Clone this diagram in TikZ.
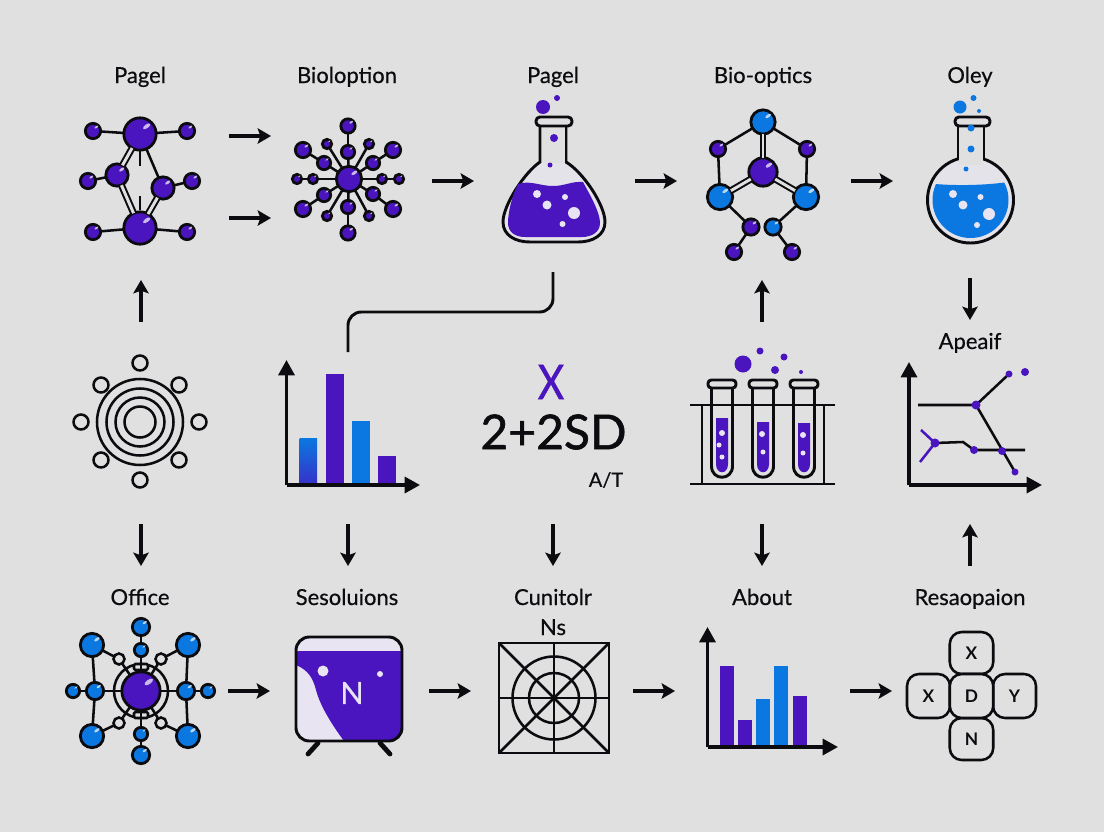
\documentclass[tikz,border=0pt]{standalone}
\usepackage{fontspec}
\usepackage{xcolor}
\usetikzlibrary{arrows.meta}
\setmainfont{Lato}
\newfontfamily\heavyfont[RawFeature={embolden=0.5}]{Lato}
\newfontfamily\bigfont[RawFeature={embolden=1.2}]{Lato}
\definecolor{bgGrey}{HTML}{E0E0E0}
\definecolor{ink}{HTML}{0C0C10}
\definecolor{vio}{HTML}{4A14BE}
\definecolor{azure}{HTML}{0A78E0}
\definecolor{lav}{HTML}{E8E4F2}
\definecolor{tint}{HTML}{E5E3EA}
\tikzset{
    lab/.style={text=ink,inner sep=0pt,anchor=base,font=\heavyfont\fontsize{16.5}{18}\selectfont},
    atomP/.style={circle,draw=ink,line width=2.1pt,fill=vio,inner sep=0pt,outer sep=0pt},
    atomB/.style={circle,draw=ink,line width=2.1pt,fill=azure,inner sep=0pt,outer sep=0pt},
    ringN/.style={circle,draw=ink,line width=1.9pt,fill=bgGrey,inner sep=0pt,outer sep=0pt},
    bond/.style={draw=ink,line width=1.9pt},
    bondD/.style={draw=ink,line width=1.5pt,double=bgGrey,double distance=2.2pt},
    flow/.style={draw=ink,line width=2.3pt,-{Stealth[length=10pt,width=11.5pt,inset=2pt]}},
    axis/.style={draw=ink,line width=2.5pt,-{Stealth[length=11.5pt,width=12pt,inset=0pt]}},
    outline/.style={draw=ink,line width=2.2pt},
    thinline/.style={draw=ink,line width=1.9pt},
    keybox/.style={draw=ink,line width=1.9pt,fill=bgGrey,rounded corners=9pt,inner sep=0pt,outer sep=0pt,text=ink,font=\fontsize{13}{15}\bfseries\selectfont},
}
% name, x, y, diameter, style
\newcommand{\atom}[5]{
    \node[#5,minimum size=#4*0.75pt-2pt] (#1) at (#2,#3) {};
    \fill[white,opacity=0.7,rotate around={35:(#2+0.19*#4,#3-0.22*#4)}] (#2+0.19*#4,#3-0.22*#4) ellipse (0.12*#4 and 0.055*#4);
}
% name, start, end
\newcommand{\flowarrow}[3]{
    \coordinate (#1s) at (#2);
    \coordinate (#1e) at (#3);
    \draw[flow] (#1s) -- (#1e);
}

\begin{document}
\begin{tikzpicture}[x=0.75pt,y=-0.75pt]
    \useasboundingbox (0,0) rectangle (1104,832);
    \fill[bgGrey] (0,0) rectangle (1104,832);

    % Labels
    \node[lab] (labPagelA) at (140,83) {Pagel};
    \node[lab] (labBioloption) at (347,83) {Bioloption};
    \node[lab] (labPagelB) at (553,83) {Pagel};
    \node[lab] (labBioOptics) at (763,83) {Bio-optics};
    \node[lab] (labOley) at (970,83) {Oley};
    \node[lab] (labApeaif) at (970,349) {Apeaif};
    \node[lab] (labOffice) at (140,605) {Office};
    \node[lab] (labSesoluions) at (347,605) {Sesoluions};
    \node[lab] (labCunitolr) at (553,605) {Cunitolr};
    \node[lab] (labNs) at (553,635) {Ns};
    \node[lab] (labAbout) at (762,605) {About};
    \node[lab] (labResaopaion) at (970,605) {Resaopaion};

    % Arrows top row
    \flowarrow{aA}{229,136}{271,136}
    \flowarrow{aB}{229,218}{271,218}
    \flowarrow{aC}{432,181}{474,181}
    \flowarrow{aD}{635,181}{677,181}
    \flowarrow{aE}{851,181}{893,181}
    % Arrows between rows
    \flowarrow{aF}{141,322}{141,280}
    \flowarrow{aG}{762,322}{762,280}
    \flowarrow{aH}{970,278}{970,320}
    \flowarrow{aI}{141,524}{141,566}
    \flowarrow{aJ}{348,524}{348,566}
    \flowarrow{aK}{553,524}{553,566}
    \flowarrow{aL}{762,524}{762,566}
    \flowarrow{aM}{970,566}{970,524}
    % Arrows bottom row
    \flowarrow{aN}{228,691}{270,691}
    \flowarrow{aO}{429,691}{471,691}
    \flowarrow{aP}{633,691}{675,691}
    \flowarrow{aQ}{850,691}{892,691}
    % Elbow from flask to bar chart
    \coordinate (elbowS) at (553,272);
    \coordinate (elbowM) at (348,312);
    \coordinate (elbowE) at (348,352);
    \draw[outline,rounded corners=10pt] (elbowS) |- (elbowM) -- (elbowE);

    % Molecule, top left
    \atom{mTop}{140}{134}{35}{atomP}
    \atom{mBot}{140}{228}{35}{atomP}
    \atom{mL}{117}{175}{25}{atomP}
    \atom{mR}{163}{188}{25}{atomP}
    \atom{mTL}{93}{131}{18}{atomP}
    \atom{mTR}{187}{131}{18}{atomP}
    \atom{mML}{88}{181}{18}{atomP}
    \atom{mMR}{192}{181}{18}{atomP}
    \atom{mBL}{93}{232}{18}{atomP}
    \atom{mBR}{187}{232}{18}{atomP}
    \draw[bond] (mTop) -- (mTL);
    \draw[bond] (mTop) -- (mTR);
    \draw[bond] (mL) -- (mML);
    \draw[bond] (mR) -- (mMR);
    \draw[bond] (mBot) -- (mBL);
    \draw[bond] (mBot) -- (mBR);
    \draw[bond] (mTop) -- (mR);
    \draw[bondD] (mTop) -- (mL);
    \draw[bondD] (mL) -- (mBot);
    \draw[bondD] (mR) -- (mBot);
    \coordinate (mTickA) at (140,151);
    \coordinate (mTickB) at (140,166);
    \coordinate (mTickC) at (140,196);
    \coordinate (mTickD) at (140,210);
    \draw[bond] (mTickA) -- (mTickB);
    \draw[bond] (mTickC) -- (mTickD);

    % Star molecule
    \atom{sHub}{349}{179}{28}{atomP}
    \foreach \n/\ix/\iy/\id/\ox/\oy/\od in {
        a/348/152/16/348/126/17, b/324/163/16/303/150/18, c/373/163/16/393/150/18,
        d/313/179/12/297/179/12, e/382/179/12/399/179/12, f/324/195/16/303/209/18,
        g/373/194/16/393/209/18, h/348/207/16/348/233/17} {
        \atom{sI\n}{\ix}{\iy}{\id}{atomP}
        \atom{sO\n}{\ox}{\oy}{\od}{atomP}
        \draw[bond] (sHub) -- (sI\n);
        \draw[bond] (sI\n) -- (sO\n);
    }
    \atom{sSa}{327}{144}{12}{atomP}
    \atom{sSb}{369}{144}{12}{atomP}
    \atom{sSc}{327}{216}{12}{atomP}
    \atom{sSd}{369}{216}{12}{atomP}
    \draw[bond] (sHub) -- (sSa);
    \draw[bond] (sHub) -- (sSb);
    \draw[bond] (sHub) -- (sSc);
    \draw[bond] (sHub) -- (sSd);

    % Conical flask
    \draw[outline,fill=tint] (540,126) -- (540,162) .. controls (525,172) and (503,205) .. (503,222)
        .. controls (503,235) and (515,242) .. (530,242) -- (578,242)
        .. controls (593,242) and (605,235) .. (605,222)
        .. controls (605,205) and (583,172) .. (566,162) -- (566,126);
    \fill[bgGrey] (541.5,126) rectangle (564.5,163);
    \fill[vio] (518,184) .. controls (530,180) and (540,186) .. (553,186)
        .. controls (565,186) and (572,181) .. (583,182)
        .. controls (590,195) and (600,212) .. (600,223)
        .. controls (600,232) and (592,237) .. (582,237) -- (525,237)
        .. controls (515,237) and (508,232) .. (508,223)
        .. controls (508,212) and (512,196) .. (518,184) -- cycle;
    \draw[outline,fill=bgGrey,rounded corners=3pt] (536,117) rectangle (572,126);
    \fill[vio] (543,107) circle (7);
    \fill[vio] (557,98) circle (3);
    \fill[vio] (554,138) circle (4);
    \fill[vio] (550,165) circle (2.5);
    \foreach \bx/\by/\br in {537/194/4,547/205/4.5,565/197/3,574/213/6,562.5/224/3}
        \fill[lav] (\bx,\by) circle (\br);

    % Second molecule, top
    \atom{oTop}{763}{122}{27}{atomB}
    \atom{oL}{718}{149}{18}{atomP}
    \atom{oR}{807}{149}{18}{atomP}
    \atom{oMid}{763}{172}{31}{atomP}
    \atom{oSW}{720}{197}{28}{atomB}
    \atom{oSE}{806}{197}{28}{atomB}
    \atom{oLowA}{751}{227}{19}{atomP}
    \atom{oLowB}{773}{227}{19}{atomB}
    \atom{oEndA}{734}{252}{18}{atomP}
    \atom{oEndB}{792}{252}{18}{atomP}
    \draw[bond] (oTop) -- (oL);
    \draw[bond] (oTop) -- (oR);
    \draw[bondD] (oTop) -- (oMid);
    \draw[bondD] (oMid) -- (oSW);
    \draw[bondD] (oMid) -- (oSE);
    \draw[bond] (oL) -- (oSW);
    \draw[bond] (oR) -- (oSE);
    \draw[bond] (oSW) -- (oLowA);
    \draw[bond] (oSE) -- (oLowB);
    \draw[bond] (oLowA) -- (oEndA);
    \draw[bond] (oLowB) -- (oEndB);

    % Round flask
    \draw[outline,fill=tint] (970.5,200) circle (43);
    \begin{scope}
        \clip (970.5,200) circle (38);
        \fill[azure] (925,183) .. controls (950,186) and (985,186) .. (1015,181) -- (1015,245) -- (925,245) -- cycle;
    \end{scope}
    \fill[bgGrey] (959,126) rectangle (983,165);
    \draw[outline] (958,126) -- (958,160);
    \draw[outline] (984,126) -- (984,160);
    \draw[outline,fill=bgGrey,rounded corners=3pt] (955,117) rectangle (990,126);
    \fill[azure] (960,107) circle (6.5);
    \fill[azure] (973.5,98) circle (3);
    \fill[azure] (979,111) circle (2);
    \fill[azure] (971,128) circle (3.5);
    \fill[azure] (971,149) circle (3.5);
    \fill[azure] (966,169) circle (2.5);
    \foreach \bx/\by/\br in {953/194/4,963/205/4.5,980.5/197/3,989/214/6,977/225/3}
        \fill[lav] (\bx,\by) circle (\br);

    % Rings, middle left
    \node[ringN,minimum size=86*0.75pt] (rOut) at (140,422) {};
    \node[ringN,minimum size=67*0.75pt] (rMidA) at (140,422) {};
    \node[ringN,minimum size=49*0.75pt] (rMidB) at (140,422) {};
    \node[ringN,minimum size=31*0.75pt] (rIn) at (140,422) {};
    \foreach \n/\rx/\ry in {a/140/363,b/101/385,c/179/385,d/81/422,e/199/422,f/101/460,g/179/460,h/140/480}
        \node[ringN,minimum size=15*0.75pt] (rSat\n) at (\rx,\ry) {};

    % Bar chart, middle
    \fill[top color=azure,bottom color=vio!70!azure] (299.5,438) rectangle (317,484);
    \fill[vio] (326,374) rectangle (344,484);
    \fill[azure] (352,421) rectangle (370,484);
    \fill[vio] (378,456) rectangle (396,484);
    \coordinate (cAo) at (286.5,485);
    \coordinate (cAy) at (286.5,360);
    \coordinate (cAx) at (420,485);
    \draw[axis] (cAo) -- (cAy);
    \draw[axis] (cAo) -- (cAx);

    % Centre text
    \node[text=vio,inner sep=0pt,font=\bigfont\fontsize{36}{40}\selectfont,xscale=0.85] (txtX) at (551,382) {X};
    \node[text=ink,inner sep=0pt,font=\bigfont\fontsize{36}{40}\selectfont] (txtSum) at (553.5,432) {2+2SD};
    \node[text=ink,inner sep=0pt,font=\heavyfont\fontsize{15}{18}\selectfont] (txtAT) at (606,480) {A/T};

    % Test tubes
    \foreach \tx/\ty in {722/418,763/422,804/423} {
        \draw[outline,fill=bgGrey] (\tx-10.5,388) -- (\tx-10.5,466) .. controls (\tx-10.5,481) and (\tx+10.5,481) .. (\tx+10.5,466) -- (\tx+10.5,388);
        \fill[vio] (\tx-6,\ty) -- (\tx+6,\ty) -- (\tx+6,464) .. controls (\tx+6,475) and (\tx-6,475) .. (\tx-6,464) -- cycle;
        \draw[outline,fill=bgGrey,rounded corners=2.5pt] (\tx-14,380) rectangle (\tx+14,388);
    }
    \foreach \bx/\by/\br in {722/433/3,719/445/2.5,722/457/2.5,762/434/3,763/452/2.5,803/435/3,803/453/2.5}
        \fill[lav] (\bx,\by) circle (\br);
    \draw[outline] (690,405) -- (835,405);
    \draw[outline] (690,484) -- (835,484);
    \draw[outline] (702,405) -- (702,484);
    \draw[outline] (824,405) -- (824,484);
    \fill[vio] (743,364) circle (8.5);
    \fill[vio] (760,351) circle (3.5);
    \fill[vio] (784,357) circle (3.5);
    \fill[vio] (775,370) circle (4);
    \fill[vio] (801,372) circle (2);

    % Line chart
    \coordinate (cBo) at (909,485);
    \coordinate (cBy) at (909,362);
    \coordinate (cBx) at (1042,485);
    \draw[axis] (cBo) -- (cBy);
    \draw[axis] (cBo) -- (cBx);
    \draw[thinline] (918,405) -- (976,405) -- (1009,374);
    \draw[thinline] (976,405) -- (1015,472);
    \draw[thinline] (935,443) -- (963,442) -- (974,450) -- (1025,450);
    \draw[vio,line width=1.9pt] (921,430) -- (935,443) -- (920,462);
    \foreach \dx/\dy/\dr in {976/405/4.5,1009/374/3.5,1025/372/4,935/443/4.5,974/450/4,1002/451/4,1015/472/3.5}
        \fill[vio] (\dx,\dy) circle (\dr);

    % Molecule, bottom left
    \draw[thinline] (141,691) circle (27);
    \draw[thinline,fill=bgGrey,rounded corners=1pt] (134,664) rectangle (148,670);
    \draw[thinline,fill=bgGrey,rounded corners=1pt] (134,712) rectangle (148,718);
    \atom{hHub}{141}{691}{41}{atomP}
    \atom{hTop}{141}{627}{20}{atomB}
    \atom{hTopIn}{141}{650}{16}{atomB}
    \atom{hBot}{141}{755}{20}{atomB}
    \atom{hBotIn}{141}{734}{16}{atomB}
    \atom{hTL}{92}{645}{26}{atomB}
    \atom{hTR}{188}{645}{26}{atomB}
    \atom{hBL}{92}{736}{26}{atomB}
    \atom{hBR}{188}{736}{26}{atomB}
    \atom{hML}{95}{691}{20}{atomB}
    \atom{hMR}{186}{691}{20}{atomB}
    \atom{hEL}{73}{691}{16}{atomB}
    \atom{hER}{208}{691}{16}{atomB}
    \node[ringN,minimum size=11*0.75pt] (hRa) at (119,659) {};
    \node[ringN,minimum size=11*0.75pt] (hRb) at (161,659) {};
    \node[ringN,minimum size=11*0.75pt] (hRc) at (119,723) {};
    \node[ringN,minimum size=11*0.75pt] (hRd) at (161,723) {};
    \draw[bond] (hTop) -- (hTopIn);
    \draw[bond] (hTopIn) -- (hHub);
    \draw[bond] (hBot) -- (hBotIn);
    \draw[bond] (hBotIn) -- (hHub);
    \draw[bond] (hEL) -- (hML);
    \draw[bond] (hML) -- (hHub);
    \draw[bond] (hER) -- (hMR);
    \draw[bond] (hMR) -- (hHub);
    \draw[bond] (hTL) -- (hML);
    \draw[bond] (hML) -- (hBL);
    \draw[bond] (hTR) -- (hMR);
    \draw[bond] (hMR) -- (hBR);
    \draw[bond] (hTL) -- (hRa);
    \draw[bond] (hRa) -- (hHub);
    \draw[bond] (hTR) -- (hRb);
    \draw[bond] (hRb) -- (hHub);
    \draw[bond] (hBL) -- (hRc);
    \draw[bond] (hRc) -- (hHub);
    \draw[bond] (hBR) -- (hRd);
    \draw[bond] (hRd) -- (hHub);

    % Screen
    \draw[line width=3.6pt,ink,line cap=round] (308,754) -- (318,743);
    \draw[line width=3.6pt,ink,line cap=round] (390,754) -- (380,743);
    \begin{scope}
        \clip[rounded corners=10pt] (296,637) rectangle (402,741);
        \fill[lav] (296,637) rectangle (402,741);
        \fill[vio] (296,651) -- (402,651) -- (402,741) -- (344,741) .. controls (330,722) and (320,705) .. (316,690) .. controls (313,678) and (308,670) .. (296,665) -- cycle;
    \end{scope}
    \draw[outline,rounded corners=10pt] (296,637) rectangle (402,741);
    \fill[lav] (323,671) circle (5.5);
    \fill[lav] (380,674) circle (3);
    \node[text=lav,inner sep=0pt,font=\heavyfont\fontsize{23}{26}\selectfont] (txtN) at (352,693) {N};

    % Polar grid
    \draw[outline] (499,643) rectangle (609,753);
    \draw[thinline] (499,643) -- (609,753);
    \draw[thinline] (609,643) -- (499,753);
    \draw[thinline] (554,643) -- (554,753);
    \draw[thinline] (499,698) -- (609,698);
    \draw[thinline] (554,698) circle (41.5);
    \draw[thinline] (554,698) circle (25);

    % Bar chart, bottom
    \fill[vio] (720,666) rectangle (734,747);
    \fill[vio] (737.5,720) rectangle (752,747);
    \fill[azure] (755.5,699) rectangle (770,747);
    \fill[azure] (774,666) rectangle (788,747);
    \fill[vio] (792.5,696) rectangle (807,747);
    \coordinate (cCo) at (707.5,747);
    \coordinate (cCy) at (707.5,627);
    \coordinate (cCx) at (838,747);
    \draw[axis] (cCo) -- (cCy);
    \draw[axis] (cCo) -- (cCx);

    % Key cross
    \node[keybox,minimum width=43.5*0.75pt,minimum height=42*0.75pt] (keyTop) at (971.5,653) {X};
    \node[keybox,minimum width=43.5*0.75pt,minimum height=42*0.75pt] (keyBot) at (971.5,739) {N};
    \node[keybox,minimum width=43*0.75pt,minimum height=44*0.75pt] (keyLeft) at (928.5,696) {X};
    \node[keybox,minimum width=43*0.75pt,minimum height=44*0.75pt] (keyRight) at (1014.5,696) {Y};
    \node[keybox,minimum width=43.5*0.75pt,minimum height=44*0.75pt] (keyMid) at (971.5,696) {D};
\end{tikzpicture}
\end{document}
